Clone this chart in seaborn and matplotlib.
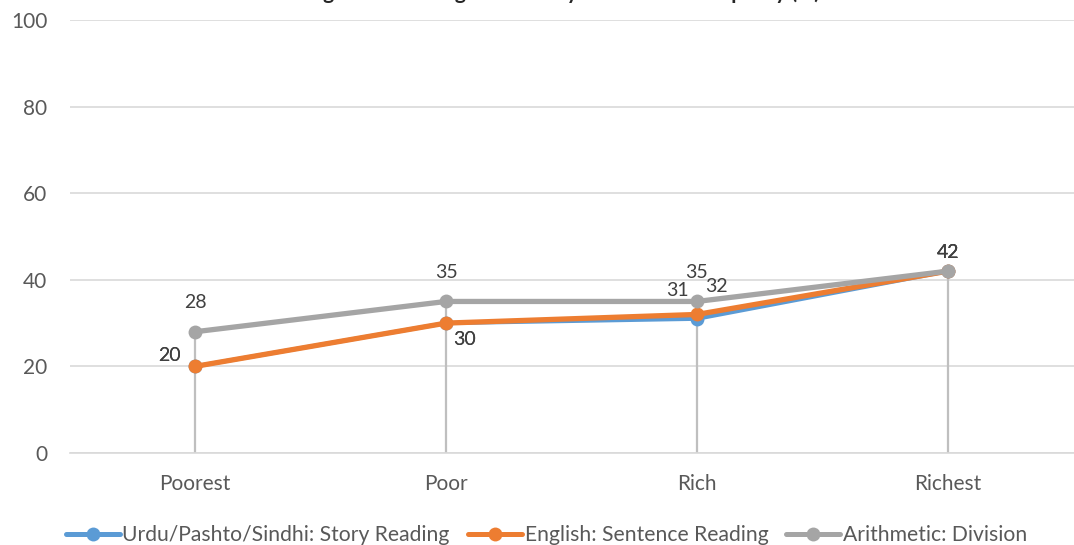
import numpy as np
import pandas as pd
import matplotlib
matplotlib.use("Agg")
import matplotlib.pyplot as plt
from matplotlib.lines import Line2D
import seaborn as sns

# Wealth groups and the share of children able to do each task (%)
categories = ["Poorest", "Poor", "Rich", "Richest"]
series_names = ["Urdu/Pashto/Sindhi: Story Reading",
                "English: Sentence Reading",
                "Arithmetic: Division"]
urdu_story = [20, 30, 31, 42]
english_sentence = [20, 30, 32, 42]
arithmetic_division = [28, 35, 35, 42]
y_ticks = [0, 20, 40, 60, 80, 100]
title = "Learning Levels among Children by Household Prosperity (%)"

colors = ["#5B9BD5", "#ED7D31", "#A5A5A5"]
values = [urdu_story, english_sentence, arithmetic_division]

sns.set_theme(style="white")
plt.rcParams["font.family"] = ["Lato", "DejaVu Sans"]

rows = []
for name, vals in zip(series_names, values):
    for i, (cat, v) in enumerate(zip(categories, vals)):
        rows.append({"pos": i, "group": cat, "series": name, "value": v})
df = pd.DataFrame(rows)

W, H = 1074, 545
fig = plt.figure(figsize=(W / 100, H / 100), dpi=100)
ax = fig.add_axes([69.5 / W, 1 - 453 / H, (1073.5 - 69.5) / W, (453 - 20) / H])

# Drop lines from the highest point of each group down to the axis
tops = df.groupby("pos")["value"].max()
ax.vlines(tops.index, 0, tops.values, color="#BFBFBF", lw=1.6, zorder=1)

sns.lineplot(data=df, x="pos", y="value", hue="series", hue_order=series_names,
             palette=colors, marker="o", markersize=10, markeredgewidth=0,
             linewidth=3.6, ax=ax, legend=False, zorder=3)
# thinner blue line sits under the orange one
for line, lw in zip(ax.get_lines(), [3.0, 3.8, 3.8]):
    line.set_linewidth(lw)

ax.set_xlim(-0.5, len(categories) - 0.5)
ax.set_ylim(0, 100)
ax.set_yticks(y_ticks)
ax.set_xticks(range(len(categories)))
ax.set_xticklabels(categories)
ax.set_xlabel("")
ax.set_ylabel("")
ax.grid(axis="y", color="#D9D9D9", lw=1.2)
ax.set_axisbelow(True)
for s in ["top", "right", "left"]:
    ax.spines[s].set_visible(False)
ax.spines["bottom"].set_color("#D9D9D9")
ax.spines["bottom"].set_linewidth(1.2)
ax.tick_params(axis="both", length=0, labelsize=15, colors="#595959")
ax.tick_params(axis="x", pad=15)
ax.tick_params(axis="y", pad=16)

lab_kw = dict(fontsize=14, color="#404040", zorder=5)
# data labels: offsets in points relative to each marker
offsets = {
    0: [(-10, 8, "right", "center"), (5, -12, "left", "center"), (-6, 14, "right", "bottom"), (0, 7, "center", "bottom")],
    1: [(-10, 8, "right", "center"), (5, -12, "left", "center"), (6, 14, "left", "bottom"), (0, 7, "center", "bottom")],
    2: [(0, 15, "center", "bottom"), (0, 15, "center", "bottom"), (0, 15, "center", "bottom"), (0, 7, "center", "bottom")],
}
for si, vals in enumerate(values):
    for i, v in enumerate(vals):
        dx, dy, ha, va = offsets[si][i]
        ax.annotate(f"{v}", (i, v), xytext=(dx, dy), textcoords="offset points",
                    ha=ha, va=va, **lab_kw)

# legend along the bottom
handles = [Line2D([0], [0], color=c, lw=3.6, marker="o", markersize=10,
                  markeredgewidth=0) for c in colors]
fig.legend(handles, series_names, loc="center", bbox_to_anchor=(546.5 / W, 1 - 535 / H),
           ncol=3, frameon=False, fontsize=15.2, handlelength=2.55,
           handletextpad=0.14, columnspacing=0.85, labelcolor="#595959")

# chart title sits at the very top edge of the canvas
fig.text(0.5, 1 + 1 / H, title, ha="center", va="baseline",
         fontsize=15, fontweight="bold", color="#262626")

fig.savefig("out.png", dpi=100)
